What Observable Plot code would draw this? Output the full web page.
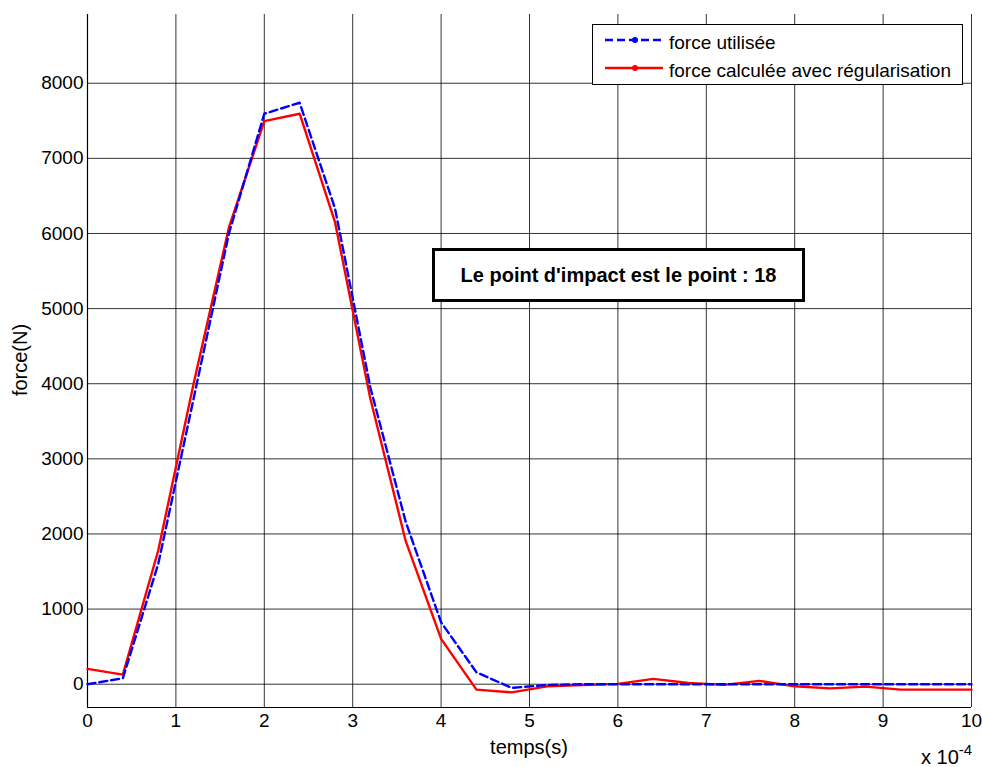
<!DOCTYPE html>
<html>
<head>
<meta charset="utf-8">
<script src="https://cdn.jsdelivr.net/npm/d3@7"></script>
<script src="https://cdn.jsdelivr.net/npm/@observablehq/plot@0.6"></script>
<style>
  body { margin: 0; background: white; font-family: "Liberation Sans", Arial, sans-serif; }
  #wrap { position: relative; width: 982px; height: 767px; overflow: hidden; background: white; }
  .abs { position: absolute; white-space: nowrap; color: black; }
</style>
</head>
<body>
<div id="wrap"></div>
<script>
// time in units of 1e-4 s
const temps = [0, 0.4, 0.8, 1.2, 1.6, 2.0, 2.4, 2.8, 3.2, 3.6, 4.0, 4.4, 4.8, 5.2, 5.6, 6.0, 6.4, 6.8, 7.2, 7.6, 8.0, 8.4, 8.8, 9.2, 9.6, 10.0];
const forceUtilisee = [0, 79, 1600, 3800, 6000, 7594, 7740, 6333, 3950, 2160, 824, 158, -49, -10, 0, 0, 0, 0, 0, 0, 0, 0, 0, 0, 0, 0];
const forceCalculee = [204, 128, 1780, 4000, 6080, 7495, 7594, 6150, 3800, 1904, 603, -72, -108, -28, -10, 5, 71, 17, -9, 44, -28, -55, -32, -72, -72, -72];
const xTicks = [0, 1, 2, 3, 4, 5, 6, 7, 8, 9, 10];
const yTicks = [0, 1000, 2000, 3000, 4000, 5000, 6000, 7000, 8000];
const seriesNames = ["force utilisée", "force calculée avec régularisation"];
const annotation = "Le point d'impact est le point : 18";
const xLabel = "temps(s)";
const yLabel = "force(N)";

const blueData = temps.map((t, i) => ({t, f: forceUtilisee[i]}));
const redData = temps.map((t, i) => ({t, f: forceCalculee[i]}));

const chart = Plot.plot({
  width: 982,
  height: 767,
  marginLeft: 87,
  marginRight: 11,
  marginTop: 14,
  marginBottom: 60,
  style: { fontFamily: "Liberation Sans, Arial, sans-serif", fontSize: "19px", background: "white", color: "black", overflow: "visible" },
  x: { domain: [0, 10] },
  y: { domain: [-310, 8915] },
  marks: [
    Plot.gridX(xTicks, { stroke: "black", strokeOpacity: 0.8, strokeWidth: 1 }),
    Plot.gridY(yTicks, { stroke: "black", strokeOpacity: 0.8, strokeWidth: 1 }),
    Plot.ruleX([0], { stroke: "black", strokeWidth: 1.2 }),
    Plot.ruleY([-310], { stroke: "black", strokeWidth: 1.2 }),
    Plot.axisX(xTicks, { tickSize: 0, tickPadding: 6, label: null, tickFormat: d => String(d), fontSize: 19 }),
    Plot.axisY(yTicks, { tickSize: 0, tickPadding: 4, label: null, tickFormat: d => String(d), fontSize: 19 }),
    Plot.line(redData, { x: "t", y: "f", stroke: "#ff0000", strokeWidth: 2.4 }),
    Plot.line(blueData, { x: "t", y: "f", stroke: "#0000ff", strokeWidth: 2.4, strokeDasharray: "8,4" })
  ]
});

const wrap = document.getElementById("wrap");
chart.style.position = "absolute";
chart.style.left = "0px";
chart.style.top = "0px";
wrap.appendChild(chart);

function addDiv(html, css) {
  const d = document.createElement("div");
  d.className = "abs";
  d.innerHTML = html;
  Object.assign(d.style, css);
  wrap.appendChild(d);
  return d;
}

// x label
addDiv(xLabel, { left: "529px", top: "736px", fontSize: "20px", transform: "translateX(-50%)" });
// x 10^-4
addDiv('x 10<span style="position:relative;top:-9px;font-size:15px">-4</span>', { left: "921px", top: "746px", fontSize: "20px" });
// y label (rotated)
addDiv(yLabel, { left: "20px", top: "360px", fontSize: "20px", transform: "translate(-50%, -50%) rotate(-90deg)" });

// legend
const legend = addDiv("", {
  left: "592px", top: "24px", width: "371px", height: "61px",
  border: "1px solid black", background: "white", boxSizing: "border-box"
});
const ns = "http://www.w3.org/2000/svg";
const lsvg = document.createElementNS(ns, "svg");
lsvg.setAttribute("width", "371");
lsvg.setAttribute("height", "61");
lsvg.style.position = "absolute";
lsvg.style.left = "-1px";
lsvg.style.top = "-1px";
lsvg.style.overflow = "visible";
legend.appendChild(lsvg);
const legendItems = [
  { name: seriesNames[0], color: "#0000ff", dash: "8,4", y: 16 },
  { name: seriesNames[1], color: "#ff0000", dash: null, y: 44 }
];
legendItems.forEach(it => {
  const ln = document.createElementNS(ns, "line");
  ln.setAttribute("x1", 13); ln.setAttribute("x2", 71);
  ln.setAttribute("y1", it.y); ln.setAttribute("y2", it.y);
  ln.setAttribute("stroke", it.color); ln.setAttribute("stroke-width", 2.4);
  if (it.dash) ln.setAttribute("stroke-dasharray", it.dash);
  lsvg.appendChild(ln);
  const c = document.createElementNS(ns, "circle");
  c.setAttribute("cx", 43); c.setAttribute("cy", it.y); c.setAttribute("r", 3);
  c.setAttribute("fill", it.color);
  lsvg.appendChild(c);
  const tx = document.createElementNS(ns, "text");
  tx.setAttribute("x", 77); tx.setAttribute("y", it.y + 9);
  tx.setAttribute("font-size", "19px");
  tx.setAttribute("font-family", "Liberation Sans, Arial, sans-serif");
  tx.textContent = it.name;
  lsvg.appendChild(tx);
});

// annotation box
addDiv(annotation, {
  left: "432px", top: "248px", width: "373px", height: "54px",
  border: "3.5px solid black", background: "white", boxSizing: "border-box",
  fontWeight: "bold", fontSize: "20px", display: "flex", alignItems: "center", justifyContent: "center"
});
</script>
</body>
</html>
